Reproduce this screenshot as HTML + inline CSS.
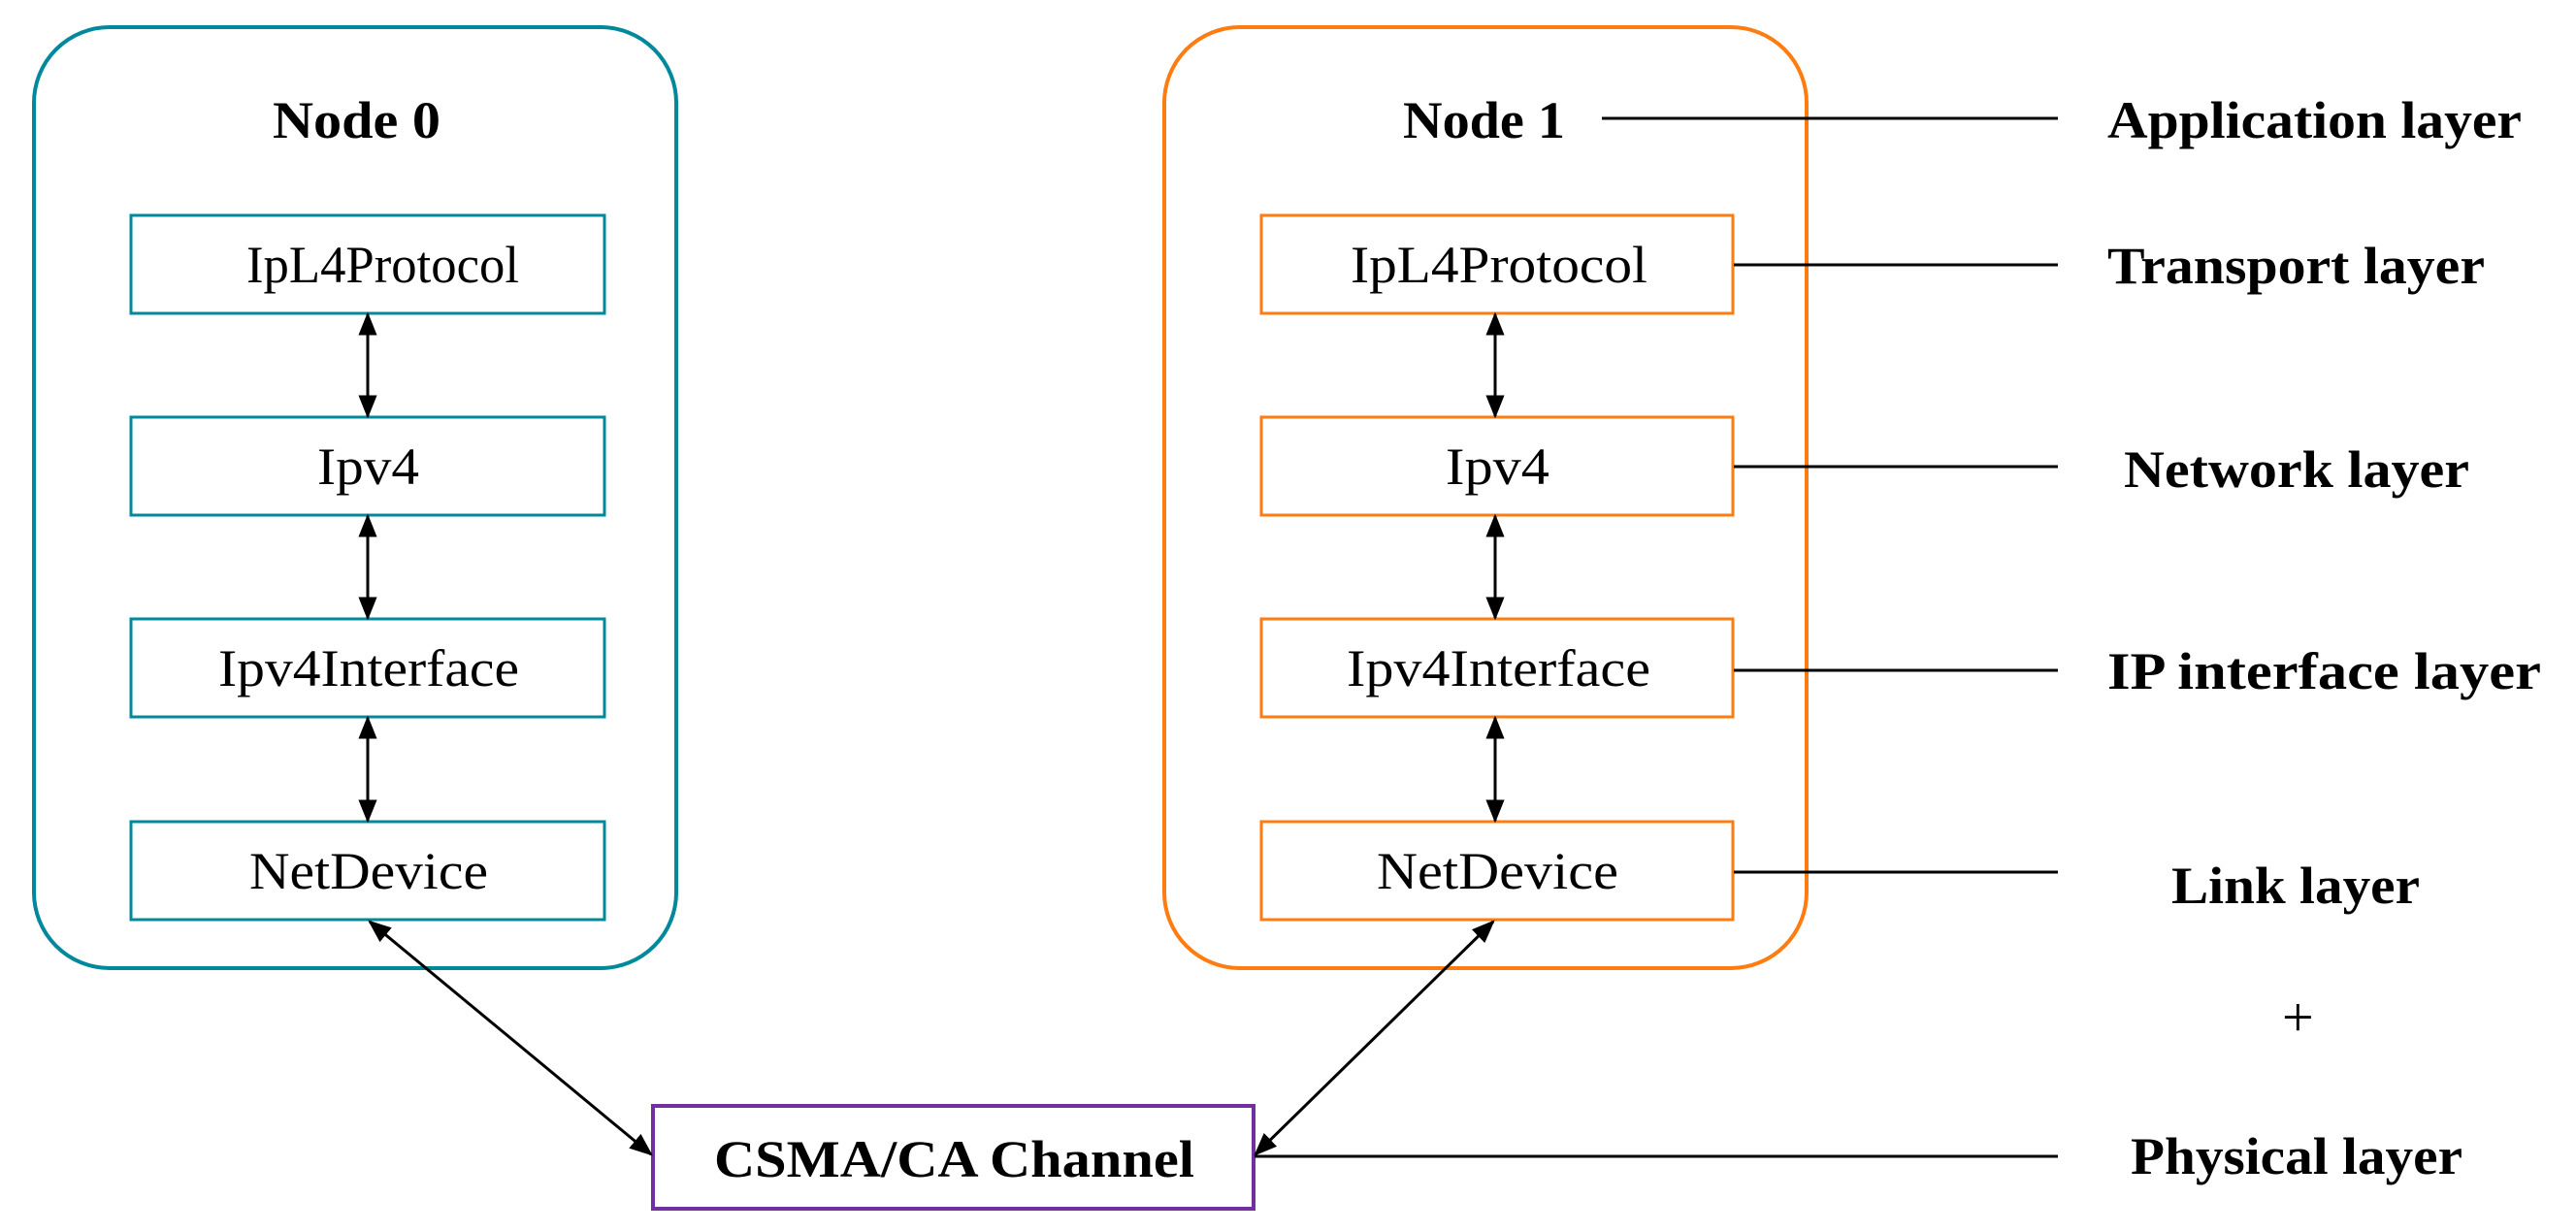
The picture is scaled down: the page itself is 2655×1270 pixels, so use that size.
<!DOCTYPE html>
<html><head><meta charset="utf-8"><style>body{margin:0;background:#fff}svg{display:block}text{font-family:"Liberation Serif","Times New Roman",serif}</style></head><body>
<svg width="2655" height="1270" viewBox="0 0 2655 1270" xmlns="http://www.w3.org/2000/svg">
<defs>
<marker id="b" viewBox="0 0 10 10" refX="9" refY="5" markerWidth="24" markerHeight="24" orient="auto-start-reverse" markerUnits="userSpaceOnUse"><path d="M0,1 L10,5 L0,9 z" fill="#000"/></marker>
</defs>
<g fill="none" stroke-width="4">
<rect x="35" y="28" width="662" height="970" rx="78" stroke="#00889b"/>
<rect x="1200" y="28" width="662" height="970" rx="78" stroke="#ff7c10"/>
<g stroke="#00889b" stroke-width="3">
<rect x="135" y="222" width="488" height="101"/><rect x="135" y="430" width="488" height="101"/><rect x="135" y="638" width="488" height="101"/><rect x="135" y="847" width="488" height="101"/>
</g>
<g stroke="#ff7c10" stroke-width="3">
<rect x="1300" y="222" width="486" height="101"/><rect x="1300" y="430" width="486" height="101"/><rect x="1300" y="638" width="486" height="101"/><rect x="1300" y="847" width="486" height="101"/>
</g>
<rect x="673" y="1140" width="619" height="106" stroke="#7030a0"/>
</g>
<g stroke="#000" stroke-width="3" marker-start="url(#b)" marker-end="url(#b)">
<line x1="379" y1="324" x2="379" y2="429"/><line x1="379" y1="532" x2="379" y2="637"/><line x1="379" y1="740" x2="379" y2="846"/>
<line x1="1541" y1="324" x2="1541" y2="429"/><line x1="1541" y1="532" x2="1541" y2="637"/><line x1="1541" y1="740" x2="1541" y2="846"/>
<line x1="381" y1="950" x2="671" y2="1190"/><line x1="1539" y1="950" x2="1294" y2="1190"/>
</g>
<g stroke="#000" stroke-width="3">
<line x1="1651" y1="122" x2="2121" y2="122"/><line x1="1787" y1="273" x2="2121" y2="273"/><line x1="1787" y1="481" x2="2121" y2="481"/><line x1="1787" y1="691" x2="2121" y2="691"/><line x1="1787" y1="899" x2="2121" y2="899"/><line x1="1293" y1="1192" x2="2121" y2="1192"/>
</g>
<g fill="#000">
<g font-weight="bold" font-size="54">
<text x="281" y="142" textLength="173" lengthAdjust="spacingAndGlyphs">Node 0</text>
<text x="1446" y="142" textLength="167" lengthAdjust="spacingAndGlyphs">Node 1</text>
<text x="736" y="1213" textLength="495" lengthAdjust="spacingAndGlyphs">CSMA/CA Channel</text>
<text x="2172" y="142" textLength="427" lengthAdjust="spacingAndGlyphs">Application layer</text>
<text x="2172" y="292" textLength="389" lengthAdjust="spacingAndGlyphs">Transport layer</text>
<text x="2189" y="502" textLength="356" lengthAdjust="spacingAndGlyphs">Network layer</text>
<text x="2172" y="710" textLength="447" lengthAdjust="spacingAndGlyphs">IP interface layer</text>
<text x="2238" y="931" textLength="256" lengthAdjust="spacingAndGlyphs">Link layer</text>
<text x="2196" y="1210" textLength="342" lengthAdjust="spacingAndGlyphs">Physical layer</text>
</g>
<text x="2352" y="1068" font-size="58">+</text>
<g font-size="54">
<text x="254" y="291" textLength="281" lengthAdjust="spacingAndGlyphs">IpL4Protocol</text>
<text x="327" y="499" textLength="105" lengthAdjust="spacingAndGlyphs">Ipv4</text>
<text x="225" y="707" textLength="310" lengthAdjust="spacingAndGlyphs">Ipv4Interface</text>
<text x="257" y="916" textLength="246" lengthAdjust="spacingAndGlyphs">NetDevice</text>
<text x="1392" y="291" textLength="306" lengthAdjust="spacingAndGlyphs">IpL4Protocol</text>
<text x="1490" y="499" textLength="107" lengthAdjust="spacingAndGlyphs">Ipv4</text>
<text x="1388" y="707" textLength="313" lengthAdjust="spacingAndGlyphs">Ipv4Interface</text>
<text x="1419" y="916" textLength="249" lengthAdjust="spacingAndGlyphs">NetDevice</text>
</g>
</g>
</svg>
</body></html>
